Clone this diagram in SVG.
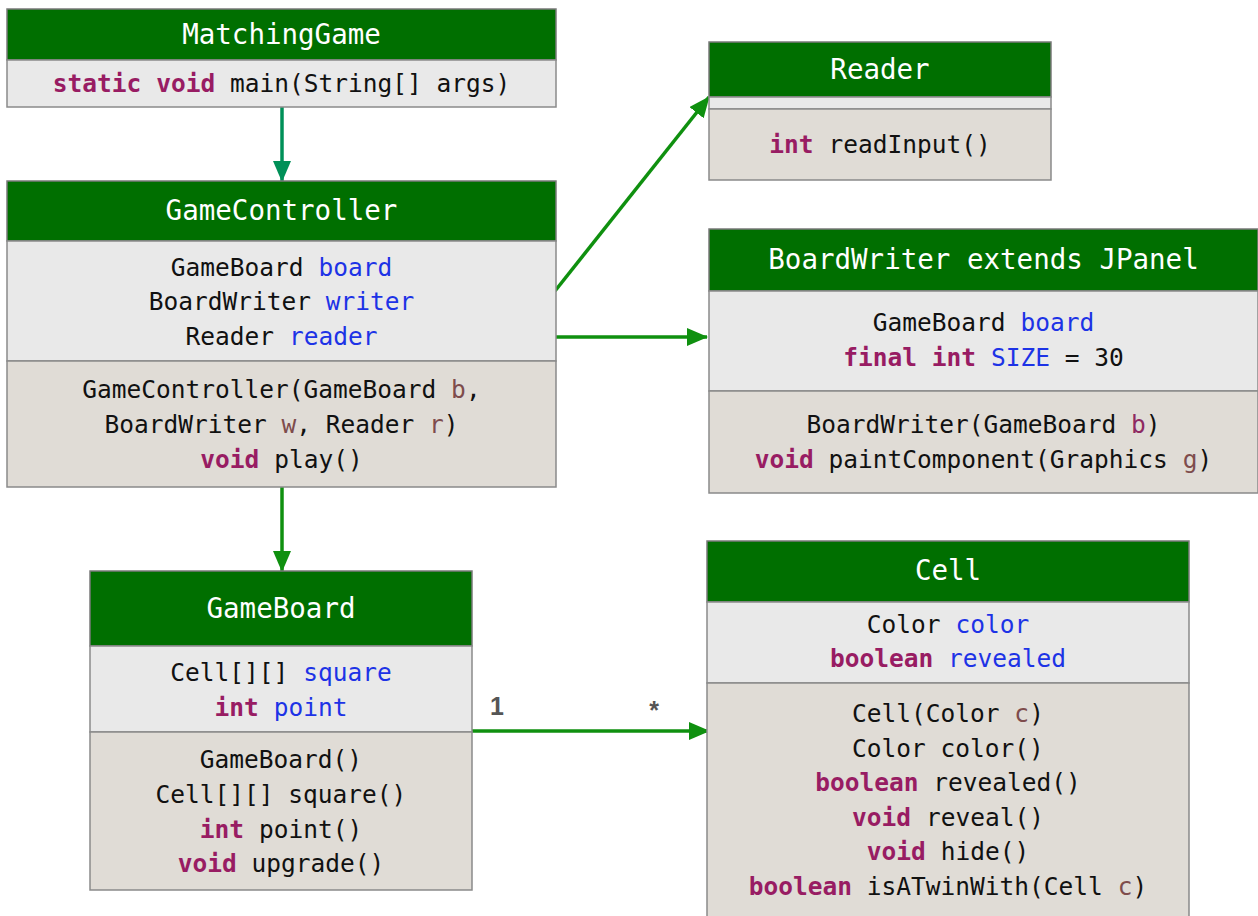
<svg xmlns="http://www.w3.org/2000/svg" width="1258" height="916" viewBox="0 0 1258 916">
<style>
.hd{fill:#006f00;stroke:#7a7a7a;stroke-width:1.5}
.fl{fill:#e9e9e9;stroke:#8a8a8a;stroke-width:1.5}
.mt{fill:#e0dcd6;stroke:#8a8a8a;stroke-width:1.5}
.t{font-family:"DejaVu Sans Mono",monospace;font-size:24.5px;fill:#111;text-anchor:middle}
.ti{font-family:"DejaVu Sans Mono",monospace;font-size:27.5px;fill:#fff;text-anchor:middle}
.k{fill:#981c63;font-weight:bold}
.f{fill:#1d33e6}
.p{fill:#7e4c4c}
.pb{fill:#8e2a62}
.c{fill:none;stroke:#0f900f;stroke-width:3.5}
.m{font-family:"Liberation Sans",Arial,sans-serif;font-size:25px;font-weight:bold;fill:#555;text-anchor:middle}
</style>
<defs>
<marker id="ah" markerUnits="userSpaceOnUse" markerWidth="22" markerHeight="18" refX="20" refY="9" orient="auto"><path d="M0,0 L21,9 L0,18 Z" fill="#0f900f"/></marker>
<marker id="ah2" markerUnits="userSpaceOnUse" markerWidth="22" markerHeight="18" refX="20" refY="9" orient="auto"><path d="M0,0 L21,9 L0,18 Z" fill="#009058"/></marker>
</defs>
<rect width="1258" height="916" fill="#fff"/>

<g id="connectors">
<line x1="282" y1="107" x2="282" y2="181" style="fill:none;stroke:#009058;stroke-width:3.5" marker-end="url(#ah2)"/>
<line x1="555" y1="291" x2="709" y2="97" class="c" marker-end="url(#ah)"/>
<line x1="556" y1="337" x2="707" y2="337" class="c" marker-end="url(#ah)"/>
<line x1="282" y1="487" x2="282" y2="571" class="c" marker-end="url(#ah)"/>
<line x1="470" y1="731" x2="709" y2="731" class="c" marker-end="url(#ah)"/>
<text class="m" x="497" y="715">1</text>
<text class="m" x="654" y="719">*</text>
</g>

<g id="MatchingGame">
<rect class="hd" x="7" y="9" width="549" height="51"/>
<rect class="fl" x="7" y="60" width="549" height="47"/>
<text class="ti" x="281.5" y="44">MatchingGame</text>
<text class="t" x="281.5" y="92"><tspan class="k">static</tspan> <tspan class="k">void</tspan> main(String[] args)</text>
</g>

<g id="GameController">
<rect class="hd" x="7" y="181" width="549" height="60"/>
<rect class="fl" x="7" y="241" width="549" height="120"/>
<rect class="mt" x="7" y="361" width="549" height="126"/>
<text class="ti" x="281.5" y="220">GameController</text>
<text class="t" x="281.5" y="276">GameBoard <tspan class="f">board</tspan></text>
<text class="t" x="281.5" y="310">BoardWriter <tspan class="f">writer</tspan></text>
<text class="t" x="281.5" y="345">Reader <tspan class="f">reader</tspan></text>
<text class="t" x="281.5" y="398">GameController(GameBoard <tspan class="p">b</tspan>,</text>
<text class="t" x="281.5" y="433">BoardWriter <tspan class="p">w</tspan>, Reader <tspan class="p">r</tspan>)</text>
<text class="t" x="281.5" y="468"><tspan class="k">void</tspan> play()</text>
</g>

<g id="Reader">
<rect class="hd" x="709" y="42" width="342" height="55"/>
<rect class="fl" x="709" y="97" width="342" height="12"/>
<rect class="mt" x="709" y="109" width="342" height="71"/>
<text class="ti" x="880" y="79">Reader</text>
<text class="t" x="880" y="153"><tspan class="k">int</tspan> readInput()</text>
</g>

<g id="BoardWriter">
<rect class="hd" x="709" y="229" width="549" height="62"/>
<rect class="fl" x="709" y="291" width="549" height="100"/>
<rect class="mt" x="709" y="391" width="549" height="102"/>
<text class="ti" x="983.5" y="269">BoardWriter extends JPanel</text>
<text class="t" x="983.5" y="331">GameBoard <tspan class="f">board</tspan></text>
<text class="t" x="983.5" y="366"><tspan class="k">final</tspan> <tspan class="k">int</tspan> <tspan class="f">SIZE</tspan> = 30</text>
<text class="t" x="983.5" y="433">BoardWriter(GameBoard <tspan class="pb">b</tspan>)</text>
<text class="t" x="983.5" y="468"><tspan class="k">void</tspan> paintComponent(Graphics <tspan class="p">g</tspan>)</text>
</g>

<g id="GameBoard">
<rect class="hd" x="90" y="571" width="382" height="75"/>
<rect class="fl" x="90" y="646" width="382" height="86"/>
<rect class="mt" x="90" y="732" width="382" height="158"/>
<text class="ti" x="281" y="618">GameBoard</text>
<text class="t" x="281" y="681">Cell[][] <tspan class="f">square</tspan></text>
<text class="t" x="281" y="716"><tspan class="k">int</tspan> <tspan class="f">point</tspan></text>
<text class="t" x="281" y="768">GameBoard()</text>
<text class="t" x="281" y="803">Cell[][] square()</text>
<text class="t" x="281" y="838"><tspan class="k">int</tspan> point()</text>
<text class="t" x="281" y="872"><tspan class="k">void</tspan> upgrade()</text>
</g>

<g id="Cell">
<rect class="hd" x="707" y="541" width="482" height="61"/>
<rect class="fl" x="707" y="602" width="482" height="81"/>
<rect class="mt" x="707" y="683" width="482" height="240"/>
<text class="ti" x="948" y="580">Cell</text>
<text class="t" x="948" y="633">Color <tspan class="f">color</tspan></text>
<text class="t" x="948" y="667"><tspan class="k">boolean</tspan> <tspan class="f">revealed</tspan></text>
<text class="t" x="948" y="722">Cell(Color <tspan class="p">c</tspan>)</text>
<text class="t" x="948" y="757">Color color()</text>
<text class="t" x="948" y="791"><tspan class="k">boolean</tspan> revealed()</text>
<text class="t" x="948" y="826"><tspan class="k">void</tspan> reveal()</text>
<text class="t" x="948" y="860"><tspan class="k">void</tspan> hide()</text>
<text class="t" x="948" y="895"><tspan class="k">boolean</tspan> isATwinWith(Cell <tspan class="p">c</tspan>)</text>
</g>
</svg>
